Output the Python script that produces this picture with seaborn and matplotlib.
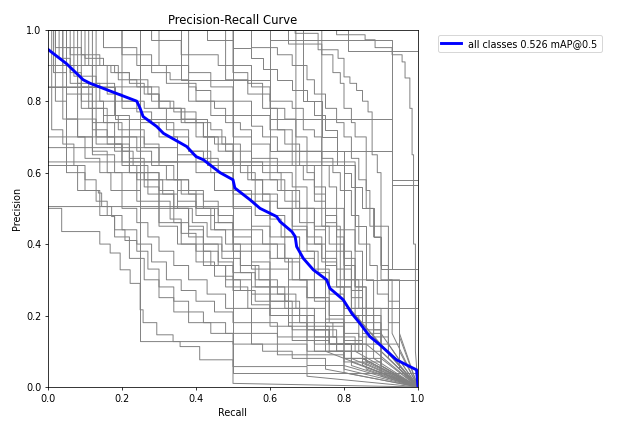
import numpy as np
import pandas as pd
import matplotlib
matplotlib.use("Agg")
import matplotlib.pyplot as plt
import seaborn as sns

# mean curve over all classes
mean_recall = [0, 0.05, 0.095, 0.114, 0.159, 0.24, 0.249, 0.257, 0.294, 0.312, 0.375, 0.40, 0.42,
               0.465, 0.50, 0.505, 0.546, 0.573, 0.618, 0.627, 0.659, 0.668, 0.672, 0.69, 0.717,
               0.753, 0.762, 0.798, 0.821, 0.843, 0.87, 0.897, 0.942, 0.978, 0.996, 1.0]
mean_precision = [0.945, 0.905, 0.86, 0.85, 0.832, 0.80, 0.78, 0.757, 0.729, 0.71, 0.673, 0.645, 0.636,
                  0.60, 0.58, 0.557, 0.524, 0.50, 0.477, 0.463, 0.435, 0.421, 0.393, 0.36, 0.328,
                  0.30, 0.276, 0.244, 0.206, 0.178, 0.141, 0.118, 0.076, 0.057, 0.048, 0.0]
mean_label = "all classes 0.526 mAP@0.5"

# per-class curves, (recall, precision) knots of the step envelope
high_ap_curves = [
    [(0, 1), (0.70, 1), (0.78, 0.986), (0.857, 0.972), (0.884, 0.95), (0.93, 0.93), (0.957, 0.91),
     (0.965, 0.865), (0.978, 0.78), (0.984, 0.65), (0.988, 0.40), (0.993, 0.10), (1.0, 0.0)],
    [(0, 1), (0.81, 1), (0.81, 0.94), (1.0, 0.94), (1.0, 0.0)],
    [(0, 1), (0.668, 0.99), (0.73, 0.99), (0.73, 0.944), (0.784, 0.944), (0.784, 0.92), (0.80, 0.92),
     (0.80, 0.868), (0.816, 0.868), (0.816, 0.85), (0.834, 0.85), (0.834, 0.83), (0.85, 0.83),
     (0.85, 0.80), (0.865, 0.80), (0.865, 0.77), (0.876, 0.77), (0.876, 0.65), (0.89, 0.6),
     (0.90, 0.45), (0.92, 0.3), (0.95, 0.15), (1, 0)],
    [(0, 1), (0.65, 1), (0.65, 0.96), (0.74, 0.96), (0.74, 0.93), (0.77, 0.93), (0.77, 0.88),
     (0.79, 0.85), (0.80, 0.78), (0.82, 0.74), (0.83, 0.70), (0.86, 0.66), (0.86, 0.55),
     (0.87, 0.45), (0.9, 0.3), (0.93, 0.15), (1, 0)],
    [(0, 1), (0.60, 1), (0.60, 0.97), (0.929, 0.97), (0.929, 0.566), (1.0, 0.566), (1.0, 0.0)],
    [(0, 1), (0.43, 1), (0.43, 0.97), (0.5, 0.95), (0.55, 0.92), (0.58, 0.89), (0.62, 0.86),
     (0.66, 0.83), (0.70, 0.80), (0.72, 0.76), (0.75, 0.72), (0.78, 0.66), (0.80, 0.60),
     (0.82, 0.56), (0.85, 0.50), (0.88, 0.42), (0.90, 0.33), (1, 0.33), (1, 0)],
    [(0, 1), (0.69, 1), (0.69, 0.80), (0.74, 0.80), (0.74, 0.70), (0.78, 0.70), (0.78, 0.62),
     (0.83, 0.62), (0.83, 0.45), (0.86, 0.45), (0.86, 0.30), (1, 0.30), (1, 0)],
    [(0, 1), (0.55, 1), (0.55, 0.95), (0.62, 0.93), (0.66, 0.9), (0.7, 0.86), (0.72, 0.82), (0.75, 0.78),
     (0.78, 0.74), (0.8, 0.7), (0.82, 0.64), (0.84, 0.58), (0.86, 0.5), (0.88, 0.42), (0.9, 0.34),
     (0.92, 0.24), (0.95, 0.14), (1, 0)],
    [(0, 1), (0.48, 1), (0.48, 0.86), (0.54, 0.82), (0.58, 0.78), (0.62, 0.72), (0.66, 0.66), (0.7, 0.6),
     (0.72, 0.54), (0.75, 0.48), (0.78, 0.42), (0.8, 0.36), (0.83, 0.28), (0.86, 0.2), (0.9, 0.12),
     (0.95, 0.05), (1, 0)],
]

mid_ap_curves = [
    [(0, 1), (0.2, 1), (0.2, 0.93), (0.28, 0.93), (0.28, 0.88), (0.33, 0.86), (0.38, 0.84), (0.40, 0.80),
     (0.45, 0.78), (0.48, 0.74), (0.52, 0.72), (0.55, 0.68), (0.60, 0.64), (0.62, 0.60), (0.66, 0.56),
     (0.70, 0.50), (0.72, 0.45), (0.76, 0.40), (0.78, 0.33), (0.82, 0.27), (0.85, 0.2), (0.88, 0.14), (1, 0)],
    [(0, 1), (0.11, 1), (0.11, 0.9), (0.17, 0.88), (0.22, 0.86), (0.27, 0.82), (0.30, 0.80), (0.34, 0.77),
     (0.40, 0.74), (0.44, 0.72), (0.47, 0.68), (0.52, 0.66), (0.55, 0.63), (0.58, 0.60), (0.63, 0.55),
     (0.68, 0.50), (0.72, 0.44), (0.75, 0.38), (0.80, 0.30), (0.84, 0.22), (0.88, 0.16), (0.92, 0.10), (1, 0)],
    [(0, 1), (0.07, 1), (0.07, 0.87), (0.13, 0.85), (0.18, 0.80), (0.24, 0.77), (0.28, 0.74), (0.34, 0.70),
     (0.38, 0.66), (0.42, 0.64), (0.46, 0.60), (0.50, 0.55), (0.55, 0.52), (0.60, 0.47), (0.63, 0.42),
     (0.68, 0.38), (0.72, 0.33), (0.76, 0.28), (0.80, 0.22), (0.85, 0.15), (0.9, 0.08), (1, 0)],
    [(0, 1), (0.04, 1), (0.04, 0.75), (0.13, 0.75), (0.13, 0.68), (0.20, 0.68), (0.2, 0.63), (0.55, 0.63),
     (0.55, 0.58), (0.62, 0.55), (0.66, 0.50), (0.70, 0.42), (0.74, 0.36), (0.78, 0.30), (0.82, 0.25),
     (0.85, 0.18), (0.9, 0.10), (1, 0)],
    [(0, 1), (0.15, 1), (0.15, 0.95), (0.24, 0.95), (0.24, 0.90), (0.32, 0.90), (0.32, 0.85), (0.40, 0.83),
     (0.44, 0.80), (0.50, 0.76), (0.55, 0.73), (0.58, 0.70), (0.62, 0.66), (0.66, 0.62), (0.69, 0.58),
     (0.72, 0.52), (0.75, 0.46), (0.78, 0.40), (0.80, 0.34), (0.83, 0.28), (0.86, 0.22), (0.9, 0.15), (1, 0)],
    [(0, 1), (0.28, 1), (0.28, 0.97), (0.36, 0.97), (0.36, 0.93), (0.43, 0.93), (0.46, 0.90), (0.50, 0.88),
     (0.54, 0.85), (0.58, 0.82), (0.60, 0.78), (0.64, 0.75), (0.67, 0.70), (0.70, 0.66), (0.74, 0.62),
     (0.76, 0.56), (0.78, 0.50), (0.80, 0.44), (0.83, 0.38), (0.85, 0.30), (0.88, 0.22), (0.92, 0.12), (1, 0)],
    [(0, 0.84), (0.30, 0.84), (0.30, 0.78), (0.36, 0.75), (0.40, 0.70), (0.45, 0.68), (0.50, 0.62),
     (0.55, 0.58), (0.58, 0.52), (0.62, 0.50), (0.66, 0.45), (0.70, 0.40), (0.74, 0.35), (0.78, 0.28),
     (0.82, 0.20), (0.86, 0.12), (1, 0)],
    [(0, 1), (0.09, 1), (0.09, 0.82), (0.12, 0.78), (0.16, 0.74), (0.20, 0.70), (0.24, 0.66), (0.28, 0.62),
     (0.32, 0.58), (0.36, 0.54), (0.40, 0.50), (0.45, 0.46), (0.50, 0.42), (0.55, 0.38), (0.60, 0.33),
     (0.65, 0.28), (0.70, 0.22), (0.75, 0.17), (0.8, 0.12), (0.85, 0.07), (1, 0)],
    [(0, 1), (0.5, 1), (0.5, 0.9), (0.55, 0.9), (0.55, 0.84), (0.6, 0.84), (0.6, 0.8), (0.66, 0.78),
     (0.69, 0.72), (0.72, 0.70), (0.74, 0.64), (0.77, 0.60), (0.79, 0.55), (0.82, 0.48), (0.84, 0.40),
     (0.87, 0.34), (0.89, 0.26), (0.92, 0.18), (0.95, 0.1), (1, 0)],
    [(0, 1), (0.03, 1), (0.03, 0.92), (0.06, 0.88), (0.09, 0.84), (0.12, 0.80), (0.15, 0.76), (0.19, 0.72),
     (0.22, 0.70), (0.26, 0.67), (0.30, 0.63), (0.35, 0.58), (0.38, 0.55), (0.42, 0.52), (0.46, 0.48),
     (0.50, 0.44), (0.55, 0.40), (0.60, 0.36), (0.65, 0.30), (0.70, 0.25), (0.75, 0.19), (0.80, 0.13),
     (0.85, 0.08), (1, 0)],
    [(0, 1), (0.10, 1), (0.10, 0.92), (0.15, 0.90), (0.19, 0.86), (0.24, 0.84), (0.28, 0.80), (0.33, 0.78),
     (0.37, 0.74), (0.42, 0.70), (0.46, 0.66), (0.5, 0.62), (0.54, 0.58), (0.58, 0.54), (0.62, 0.50),
     (0.66, 0.44), (0.70, 0.38), (0.73, 0.32), (0.76, 0.26), (0.80, 0.20), (0.84, 0.14), (0.88, 0.08), (1, 0)],
    [(0, 1), (0.2, 1), (0.2, 0.8), (0.26, 0.78), (0.32, 0.72), (0.38, 0.66), (0.44, 0.6), (0.5, 0.54),
     (0.56, 0.48), (0.6, 0.42), (0.64, 0.36), (0.68, 0.3), (0.72, 0.25), (0.76, 0.2), (0.8, 0.15),
     (0.84, 0.1), (0.9, 0.06), (1, 0)],
    [(0, 1), (0.3, 1), (0.3, 0.9), (0.38, 0.88), (0.44, 0.84), (0.5, 0.8), (0.55, 0.76), (0.6, 0.72),
     (0.64, 0.68), (0.68, 0.62), (0.72, 0.56), (0.75, 0.5), (0.78, 0.44), (0.8, 0.38), (0.82, 0.3),
     (0.85, 0.22), (0.88, 0.14), (0.92, 0.08), (1, 0)],
    [(0, 0.9), (0.16, 0.9), (0.16, 0.82), (0.2, 0.78), (0.25, 0.74), (0.3, 0.7), (0.35, 0.65), (0.4, 0.6),
     (0.45, 0.55), (0.5, 0.5), (0.55, 0.45), (0.6, 0.4), (0.64, 0.35), (0.68, 0.3), (0.72, 0.24),
     (0.76, 0.18), (0.8, 0.12), (0.86, 0.07), (1, 0)],
    [(0, 1), (0.38, 1), (0.38, 0.8), (0.44, 0.76), (0.5, 0.7), (0.55, 0.64), (0.6, 0.58), (0.64, 0.52),
     (0.68, 0.46), (0.72, 0.4), (0.75, 0.34), (0.78, 0.28), (0.82, 0.22), (0.86, 0.16), (0.9, 0.1), (1, 0)],
    [(0, 1), (0.05, 1), (0.05, 0.95), (0.09, 0.93), (0.14, 0.9), (0.18, 0.88), (0.22, 0.85), (0.26, 0.82),
     (0.3, 0.78), (0.36, 0.74), (0.42, 0.7), (0.48, 0.66), (0.52, 0.6), (0.56, 0.54), (0.6, 0.48),
     (0.64, 0.42), (0.68, 0.36), (0.72, 0.3), (0.76, 0.24), (0.8, 0.18), (0.85, 0.12), (0.9, 0.06), (1, 0)],
]

low_ap_curves = [
    [(0, 0.5), (0.037, 0.5), (0.037, 0.435), (0.114, 0.435), (0.14, 0.40), (0.168, 0.375), (0.195, 0.328),
     (0.222, 0.29), (0.249, 0.216), (0.257, 0.18), (0.294, 0.146), (0.338, 0.127), (0.357, 0.113),
     (0.41, 0.076), (0.5, 0.057), (0.7, 0.03), (1.0, 0)],
    [(0, 0.505), (0.55, 0.505), (0.55, 0.44), (0.58, 0.40), (0.62, 0.36), (0.66, 0.30), (0.70, 0.25),
     (0.75, 0.18), (0.80, 0.12), (0.85, 0.08), (1, 0)],
    [(0, 0.62), (0.08, 0.62), (0.08, 0.55), (0.136, 0.543), (0.145, 0.505), (0.172, 0.477), (0.18, 0.44),
     (0.208, 0.41), (0.24, 0.38), (0.27, 0.33), (0.30, 0.28), (0.34, 0.24), (0.38, 0.21), (0.42, 0.18),
     (0.48, 0.15), (0.55, 0.12), (0.62, 0.09), (0.7, 0.06), (0.8, 0.04), (1, 0)],
    [(0, 1), (0.02, 1), (0.02, 0.80), (0.05, 0.75), (0.08, 0.70), (0.10, 0.64), (0.14, 0.60), (0.17, 0.55),
     (0.20, 0.50), (0.24, 0.46), (0.27, 0.42), (0.30, 0.38), (0.34, 0.34), (0.38, 0.30), (0.43, 0.26),
     (0.48, 0.22), (0.55, 0.18), (0.62, 0.14), (0.7, 0.1), (0.8, 0.06), (1, 0)],
    [(0, 1), (0.01, 1), (0.01, 0.72), (0.04, 0.68), (0.07, 0.62), (0.10, 0.58), (0.13, 0.52), (0.16, 0.48),
     (0.20, 0.44), (0.24, 0.40), (0.28, 0.35), (0.32, 0.30), (0.36, 0.27), (0.40, 0.24), (0.45, 0.21),
     (0.5, 0.18), (0.55, 0.15), (0.62, 0.12), (0.7, 0.09), (0.8, 0.05), (1, 0)],
    [(0, 1), (0.06, 1), (0.06, 0.85), (0.09, 0.80), (0.12, 0.72), (0.16, 0.68), (0.20, 0.62), (0.24, 0.58),
     (0.27, 0.54), (0.30, 0.50), (0.34, 0.46), (0.38, 0.42), (0.42, 0.38), (0.46, 0.34), (0.50, 0.30),
     (0.55, 0.26), (0.60, 0.22), (0.65, 0.18), (0.7, 0.14), (0.78, 0.10), (0.85, 0.06), (1, 0)],
    [(0, 1), (0.05, 1), (0.05, 0.60), (0.10, 0.55), (0.14, 0.48), (0.18, 0.42), (0.22, 0.36), (0.26, 0.30),
     (0.30, 0.25), (0.34, 0.21), (0.38, 0.18), (0.44, 0.15), (0.50, 0.12), (0.58, 0.10), (0.66, 0.08),
     (0.75, 0.05), (1, 0)],
    [(0, 1), (0.13, 1), (0.13, 0.70), (0.18, 0.66), (0.22, 0.60), (0.26, 0.56), (0.30, 0.52), (0.33, 0.47),
     (0.36, 0.43), (0.40, 0.38), (0.44, 0.34), (0.48, 0.30), (0.52, 0.27), (0.56, 0.24), (0.60, 0.20),
     (0.65, 0.17), (0.70, 0.13), (0.76, 0.10), (0.82, 0.06), (1, 0)],
    [(0, 1), (0.04, 1), (0.04, 0.90), (0.08, 0.85), (0.11, 0.78), (0.15, 0.74), (0.18, 0.68), (0.22, 0.64),
     (0.26, 0.58), (0.30, 0.54), (0.34, 0.50), (0.38, 0.45), (0.42, 0.40), (0.47, 0.36), (0.52, 0.32),
     (0.56, 0.28), (0.60, 0.24), (0.65, 0.20), (0.70, 0.16), (0.76, 0.12), (0.82, 0.08), (1, 0)],
    [(0, 0.67), (0.35, 0.67), (0.35, 0.55), (0.40, 0.50), (0.44, 0.44), (0.48, 0.40), (0.52, 0.34),
     (0.56, 0.30), (0.60, 0.26), (0.64, 0.22), (0.68, 0.18), (0.72, 0.14), (0.78, 0.10), (0.85, 0.06), (1, 0)],
    [(0, 1), (0.25, 1), (0.25, 0.60), (0.30, 0.55), (0.34, 0.50), (0.38, 0.44), (0.42, 0.40), (0.46, 0.35),
     (0.50, 0.32), (0.55, 0.28), (0.60, 0.24), (0.66, 0.20), (0.72, 0.16), (0.78, 0.12), (0.85, 0.08), (1, 0)],
    [(0, 1), (0.02, 1), (0.02, 0.95), (0.06, 0.93), (0.1, 0.9), (0.12, 0.85), (0.14, 0.80), (0.18, 0.76),
     (0.22, 0.72), (0.26, 0.68), (0.3, 0.62), (0.34, 0.58), (0.38, 0.54), (0.42, 0.50), (0.46, 0.46),
     (0.5, 0.40), (0.55, 0.35), (0.6, 0.28), (0.65, 0.22), (0.7, 0.17), (0.76, 0.12), (0.82, 0.07), (1, 0)],
    [(0, 1), (0.015, 1), (0.015, 0.88), (0.05, 0.82), (0.09, 0.78), (0.12, 0.74), (0.16, 0.70), (0.2, 0.66),
     (0.23, 0.62), (0.27, 0.58), (0.31, 0.54), (0.35, 0.5), (0.39, 0.46), (0.43, 0.42), (0.47, 0.38),
     (0.52, 0.34), (0.57, 0.30), (0.62, 0.26), (0.67, 0.22), (0.72, 0.18), (0.77, 0.14), (0.83, 0.10), (1, 0)],
    [(0, 0.7), (0.22, 0.7), (0.22, 0.6), (0.3, 0.58), (0.35, 0.52), (0.4, 0.48), (0.45, 0.44), (0.5, 0.38),
     (0.55, 0.33), (0.6, 0.28), (0.64, 0.24), (0.68, 0.2), (0.72, 0.16), (0.76, 0.12), (0.8, 0.08),
     (0.86, 0.05), (1, 0)],
    [(0, 1), (0.08, 1), (0.08, 0.7), (0.12, 0.66), (0.16, 0.6), (0.2, 0.55), (0.25, 0.5), (0.3, 0.45),
     (0.35, 0.4), (0.4, 0.35), (0.45, 0.31), (0.5, 0.27), (0.55, 0.23), (0.6, 0.2), (0.66, 0.16),
     (0.72, 0.12), (0.8, 0.08), (0.9, 0.04), (1, 0)],
    [(0, 1), (0.12, 1), (0.12, 0.65), (0.18, 0.6), (0.24, 0.52), (0.3, 0.46), (0.36, 0.4), (0.42, 0.34),
     (0.48, 0.28), (0.54, 0.22), (0.6, 0.17), (0.66, 0.13), (0.72, 0.1), (0.8, 0.07), (0.9, 0.03), (1, 0)],
]

rare_class_curves = [
    [(0, 1), (0.25, 1), (0.25, 0.127), (0.5, 0.127), (0.5, 0.01), (1, 0)],
    [(0, 1), (0.5, 1), (0.5, 0.04), (1, 0.04), (1, 0)],
    [(0, 0.63), (0.83, 0.63), (0.83, 0.2), (1, 0)],
    [(0, 1), (0.67, 1), (0.67, 0.5), (0.75, 0.5), (0.75, 0.1), (1, 0)],
    [(0, 1), (0.6, 1), (0.6, 0.75), (0.93, 0.75), (0.93, 0.33), (1, 0.33), (1, 0)],
    [(0, 0.84), (0.18, 0.84), (0.18, 0.75), (0.43, 0.75), (0.43, 0.62), (0.80, 0.62), (0.80, 0.22),
     (1, 0.22), (1, 0)],
    [(0, 1), (0.36, 1), (0.36, 0.86), (0.60, 0.86), (0.60, 0.66), (0.93, 0.66), (0.93, 0.58), (1, 0.58), (1, 0)],
    [(0, 1), (0.74, 1), (0.74, 0.45), (0.79, 0.45), (0.79, 0.25), (1, 0)],
]

# long-form table for seaborn; knots become stair steps, last drop to (1, 0) stays slanted
rows = []
all_curves = high_ap_curves + mid_ap_curves + low_ap_curves + rare_class_curves
for i, curve in enumerate(all_curves):
    path = []
    for k, (r, p) in enumerate(curve):
        if k > 0:
            pr, pp = curve[k - 1]
            last_drop = (k == len(curve) - 1) and p == 0
            if r != pr and p != pp and not last_drop:
                path.append((r, pp))
        path.append((r, p))
    for j, (r, p) in enumerate(path):
        rows.append({"cls": i, "order": j, "recall": r, "precision": p})
df_cls = pd.DataFrame(rows)
df_mean = pd.DataFrame({"recall": mean_recall, "precision": mean_precision})

fig = plt.figure(figsize=(9, 6.08))
ax = fig.add_axes([0.0768, 0.083, 0.592, 0.846])

sns.lineplot(data=df_cls, x="recall", y="precision", units="cls", estimator=None, sort=False,
             color="grey", linewidth=1, ax=ax, legend=False)
sns.lineplot(data=df_mean, x="recall", y="precision", sort=False, color="blue", linewidth=3,
             label=mean_label, ax=ax)

ax.set_xlabel("Recall")
ax.set_ylabel("Precision")
ax.set_xlim(0, 1)
ax.set_ylim(0, 1)
ax.set_title("Precision-Recall Curve")
ax.legend(bbox_to_anchor=(1.04, 1), loc="upper left")

fig.savefig("out.png", dpi=625 / 9)
